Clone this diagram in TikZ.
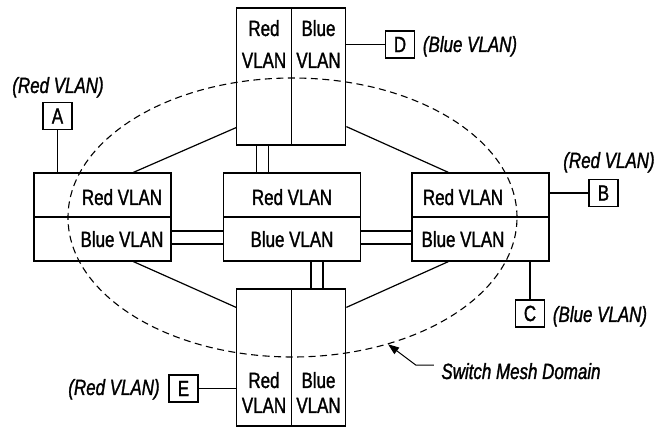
\documentclass[tikz,border=0pt]{standalone}
\usepackage{fontspec}
\setmainfont{Liberation Sans}[FakeStretch=0.77,FakeBold=1.3]
\usetikzlibrary{calc,shapes.geometric,arrows.meta}
\begin{document}
\begin{tikzpicture}[x=1pt,y=-1pt,line width=1.2pt,
  half/.style={draw,rectangle,inner sep=0pt,minimum width=#1},
  half/.default=137,
  wide/.style={half=137,minimum height=44},
  tall/.style={half=54.5,minimum height=137},
  term/.style={draw,rectangle,inner sep=0pt,minimum width=29,minimum height=27,
    font=\fontsize{22}{24}\selectfont},
  txt/.style={anchor=base,inner sep=0pt,font=\fontsize{22}{24}\selectfont},
  note/.style={anchor=base,inner sep=0pt,font=\fontsize{22}{24}\selectfont\itshape}]
\useasboundingbox (0,0) rectangle (657,427);

% left switch
\node[wide] (Lr) at (102.5,195) {};
\node[wide] (Lb) at (102.5,239) {};
% centre switch
\node[wide] (Cr) at (292,195) {};
\node[wide] (Cb) at (292,239) {};
% right switch
\node[wide] (Rr) at (480.5,195) {};
\node[wide] (Rb) at (480.5,239) {};
% top switch
\node[tall] (Tr) at (264,76.5) {};
\node[tall] (Tb) at (318.5,76.5) {};
% bottom switch
\node[tall] (Br) at (264,357.5) {};
\node[tall] (Bb) at (318.5,357.5) {};

% VLAN labels on the switches
\node[txt] at (122,205) {Red VLAN};
\node[txt] at (122,247) {Blue VLAN};
\node[txt] at (292,205) {Red VLAN};
\node[txt] at (292,247) {Blue VLAN};
\node[txt] at (463,205) {Red VLAN};
\node[txt] at (463,247) {Blue VLAN};
\node[txt] at (264,36) {Red};
\node[txt] at (264,68) {VLAN};
\node[txt] at (318.5,36) {Blue};
\node[txt] at (318.5,68) {VLAN};
\node[txt] at (264,388) {Red};
\node[txt] at (264,413) {VLAN};
\node[txt] at (318.5,388) {Blue};
\node[txt] at (318.5,413) {VLAN};

% end stations
\node[term] (A) at (57.5,116) {A};
\node[term] (D) at (400,44.5) {D};
\node[term] (B) at (603.5,193) {B};
\node[term] (C) at (530,313.5) {C};
\node[term] (E) at (183.5,388.5) {E};

\node[note] at (58,93) {(Red VLAN)};
\node[note] at (470,52) {(Blue VLAN)};
\node[note] at (609,168) {(Red VLAN)};
\node[note] at (600,322) {(Blue VLAN)};
\node[note] at (114,395) {(Red VLAN)};
\node[note] (smd) at (521,379) {Switch Mesh Domain};

% station links
\draw (A.south) -- (A.south |- Lr.north);
\draw (D.west) -- (D.west -| Tb.east);
\draw (B.west) -- (B.west -| Rr.east);
\draw (C.north) -- (C.north |- Rb.south);
\draw (E.east) -- (E.east -| Br.west);

% single mesh links
\draw ($(Lr.north west)+(100,0)$) -- ($(Tr.south west)+(0,-18)$);
\draw ($(Rr.north west)+(37,0)$) -- ($(Tb.south east)+(0,-19)$);
\draw ($(Lb.south west)+(100,0)$) -- ($(Br.north west)+(0,19)$);
\draw ($(Rb.south west)+(37,0)$) -- ($(Bb.north east)+(0,19)$);

% double mesh links
\foreach \dx [count=\i] in {20,32} {
  \coordinate (tc\i) at ($(Tr.south west)+(\dx,0)$);
  \draw (tc\i) -- (tc\i |- Cr.north);
  \coordinate (cb\i) at ($(Cb.south west)+(68+\dx,0)$);
  \draw (cb\i) -- (cb\i |- Br.north);
}
\foreach \dy [count=\i] in {-8,5} {
  \coordinate (lc\i) at ($(Lb.east)+(0,\dy)$);
  \draw (lc\i) -- (lc\i -| Cb.west);
  \coordinate (cr\i) at ($(Cb.east)+(0,\dy)$);
  \draw (cr\i) -- (cr\i -| Rb.west);
}

% mesh domain outline
\node[draw,ellipse,dash pattern=on 7pt off 4.5pt,line width=1.1pt,inner sep=0pt,
  minimum width=449,minimum height=279] (dom) at (292.5,217.5) {};
\draw[line width=1pt,-{Triangle[length=11pt,width=8pt]}]
  ($(smd.west)+(-7,-6)$) -- ++(-18,0) -- (dom.307);
\end{tikzpicture}
\end{document}
